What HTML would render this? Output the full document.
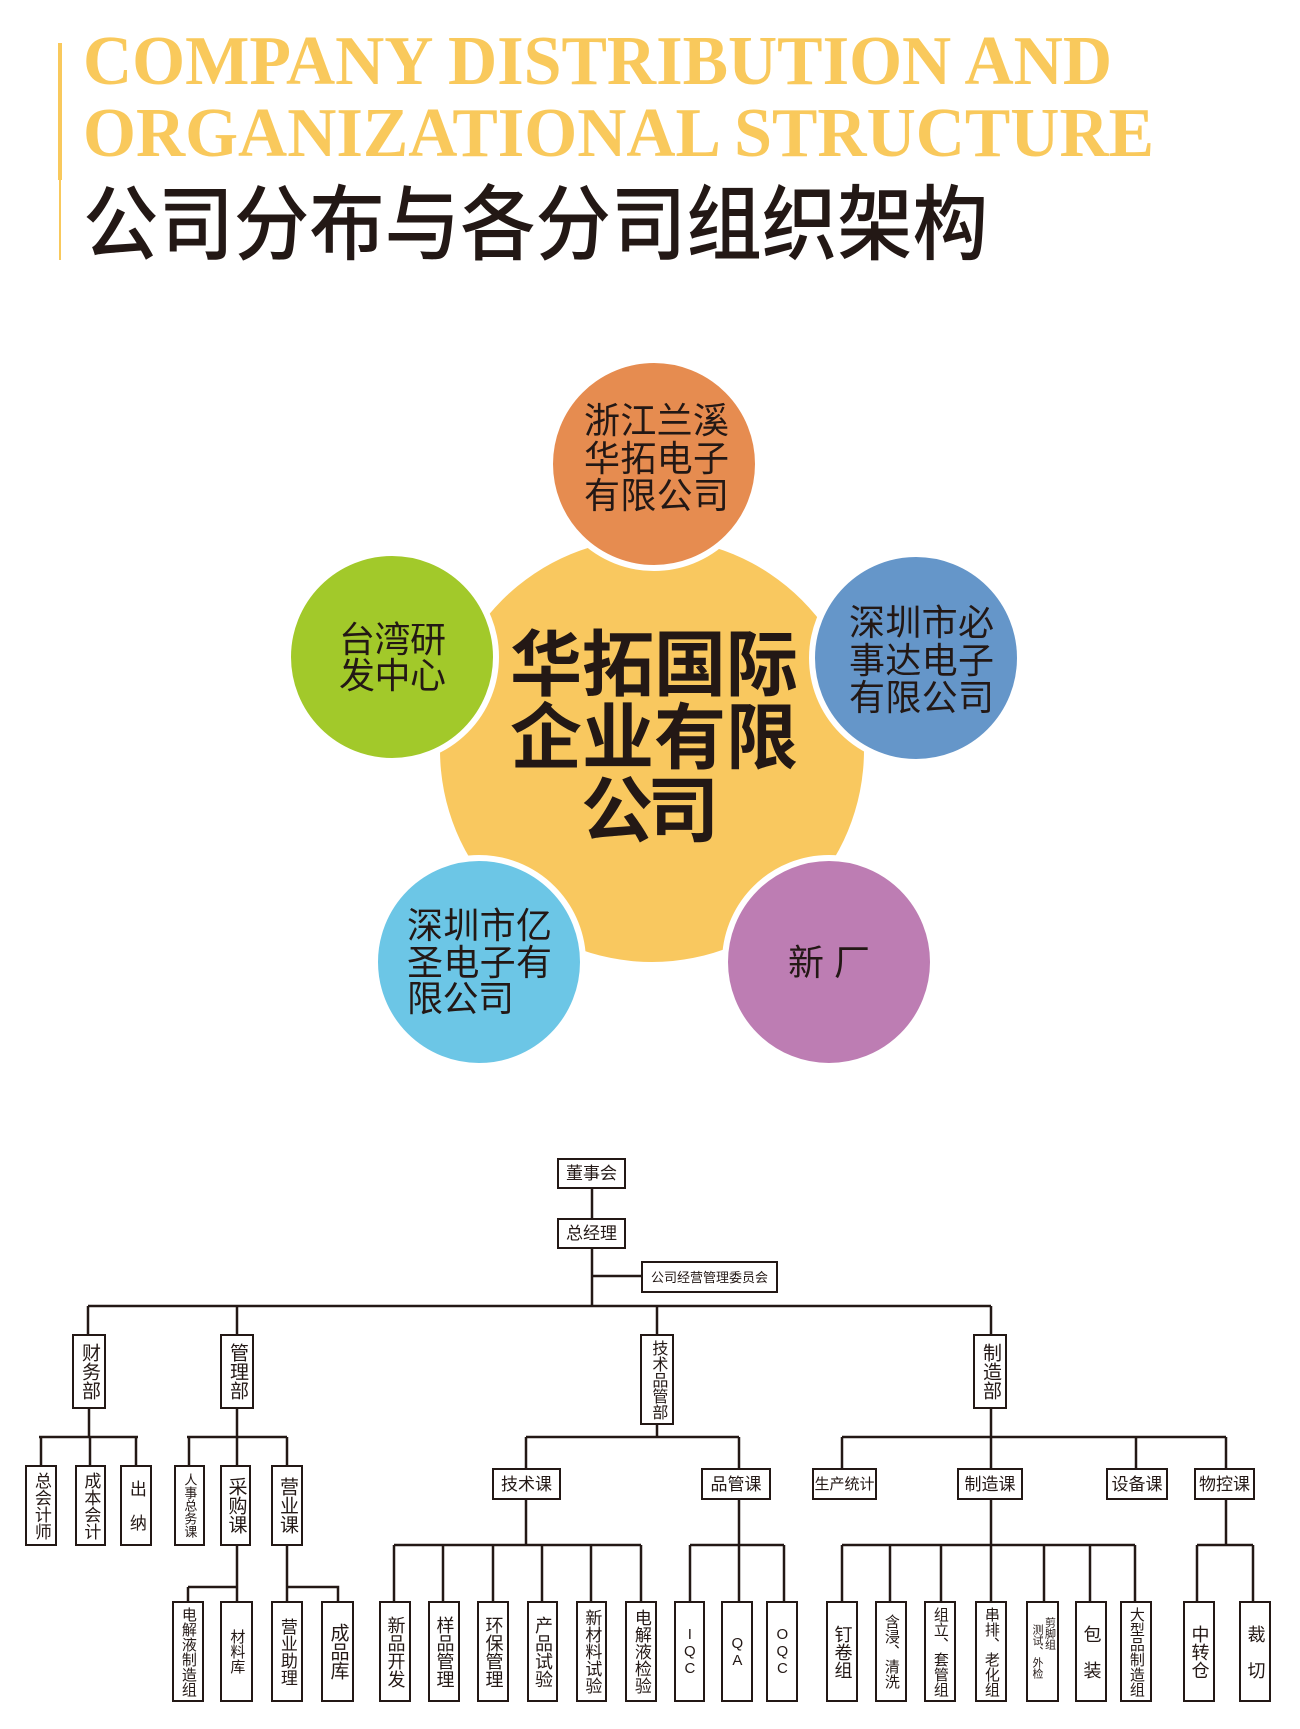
<!DOCTYPE html>
<html><head><meta charset="utf-8">
<style>
html,body{margin:0;padding:0;background:#fff;}
body{width:1300px;height:1729px;position:relative;overflow:hidden;font-family:"Liberation Sans","Noto Sans CJK SC",sans-serif;color:#231815;}
.b{position:absolute;box-sizing:border-box;border:2px solid #231815;background:#fff;display:flex;align-items:center;justify-content:center;font-size:17px;line-height:1;}
.v{writing-mode:vertical-rl;text-orientation:upright;line-height:1.05;white-space:nowrap;}
svg{position:absolute;left:0;top:0;}
</style></head><body>
<svg width="1300" height="1729" viewBox="0 0 1300 1729">
  <rect x="58" y="43" width="4" height="137" fill="#f9c95c"/>
  <rect x="59" y="180" width="2" height="80" fill="#f9c95c"/>
  <text x="83" y="84" font-family="Liberation Serif,serif" font-weight="bold" font-size="70" fill="#f9c95c" textLength="1029" lengthAdjust="spacingAndGlyphs">COMPANY DISTRIBUTION AND</text>
  <text x="83" y="156" font-family="Liberation Serif,serif" font-weight="bold" font-size="70" fill="#f9c95c" textLength="1071" lengthAdjust="spacingAndGlyphs">ORGANIZATIONAL STRUCTURE</text>
  <text x="83" y="253" font-family="Noto Sans CJK SC,sans-serif" font-weight="500" font-size="82" fill="#231815" textLength="905" lengthAdjust="spacingAndGlyphs">公司分布与各分司组织架构</text>

  <circle cx="652" cy="750" r="212" fill="#f9c85f"/>
  <g stroke="#fff" stroke-width="6">
    <circle cx="654" cy="464" r="104" fill="#e68c50"/>
    <circle cx="916" cy="658" r="104" fill="#6596c9"/>
    <circle cx="392" cy="657" r="104" fill="#a2c92a"/>
    <circle cx="479" cy="962" r="104" fill="#6cc6e6"/>
    <circle cx="829" cy="962" r="104" fill="#bd7db3"/>
  </g>
  <g font-family="Liberation Sans,Noto Sans CJK SC,sans-serif" font-size="36" fill="#231815">
    <text x="584" y="433" textLength="145">浙江兰溪</text>
    <text x="584" y="471" textLength="145">华拓电子</text>
    <text x="584" y="508" textLength="145">有限公司</text>
    <text x="849" y="635" textLength="145">深圳市必</text>
    <text x="849" y="673" textLength="145">事达电子</text>
    <text x="849" y="710" textLength="145">有限公司</text>
    <text x="339" y="652" textLength="107">台湾研</text>
    <text x="339" y="688" textLength="107">发中心</text>
    <text x="407" y="938" textLength="145">深圳市亿</text>
    <text x="407" y="975" textLength="145">圣电子有</text>
    <text x="407" y="1011" textLength="107">限公司</text>
    <text x="788" y="975" textLength="82">新 厂</text>
  </g>
  <g font-family="Liberation Sans,Noto Sans CJK SC,sans-serif" font-size="72" font-weight="bold" fill="#231815">
    <text x="510" y="690" textLength="288">华拓国际</text>
    <text x="510" y="763" textLength="288">企业有限</text>
    <text x="581" y="836" textLength="138">公司</text>
  </g>

  <g stroke="#231815" stroke-width="2.5" fill="none">
    <path d="M592 1189V1306M592 1276H641M88 1306H991M88 1306V1334M237 1306V1334M657 1306V1334M991 1306V1334"/>
    <path d="M89 1409V1437M39 1437H138M41 1437V1465M90 1437V1465M136 1437V1465"/>
    <path d="M237 1409V1437M187 1437H287M189 1437V1465M237 1437V1465M287 1437V1465"/>
    <path d="M237 1546V1587M188 1587H237M188 1587V1601M237 1587V1601M287 1546V1587H338V1601M287 1587V1601"/>
    <path d="M657 1425V1437M526 1437H739M526 1437V1468M739 1437V1468M526 1500V1545M394 1545H641M394 1545V1601M443 1545V1601M493 1545V1601M542 1545V1601M591 1545V1601M641 1545V1601"/>
    <path d="M739 1500V1545M690 1545H784M690 1545V1601M739 1545V1601M784 1545V1601"/>
    <path d="M991 1409V1437M842 1437H1226M842 1437V1468M991 1437V1468M1136 1437V1468M1226 1437V1468"/>
    <path d="M991 1500V1545M842 1545H1135M842 1545V1601M890 1545V1601M941 1545V1601M991 1545V1601M1044 1545V1601M1090 1545V1601M1135 1545V1601"/>
    <path d="M1226 1500V1545M1197 1545H1253M1197 1545V1601M1253 1545V1601"/>
  </g>
</svg>

<div class="b" style="left:557px;top:1158px;width:69px;height:31px;">董事会</div>
<div class="b" style="left:557px;top:1218px;width:69px;height:31px;">总经理</div>
<div class="b" style="left:641px;top:1261px;width:137px;height:32px;font-size:13px;">公司经营管理委员会</div>

<div class="b" style="left:72px;top:1334px;width:34px;height:75px;font-size:19px;"><span class="v">财务部</span></div>
<div class="b" style="left:220px;top:1334px;width:34px;height:75px;font-size:19px;"><span class="v">管理部</span></div>
<div class="b" style="left:640px;top:1334px;width:34px;height:91px;font-size:16px;"><span class="v">技术品管部</span></div>
<div class="b" style="left:973px;top:1334px;width:34px;height:75px;font-size:19px;"><span class="v">制造部</span></div>

<div class="b" style="left:25px;top:1465px;width:32px;height:81px;"><span class="v">总会计师</span></div>
<div class="b" style="left:75px;top:1465px;width:31px;height:81px;"><span class="v">成本会计</span></div>
<div class="b" style="left:120px;top:1465px;width:32px;height:81px;"><span class="v">出　纳</span></div>
<div class="b" style="left:174px;top:1465px;width:31px;height:81px;font-size:13px;"><span class="v">人事总务课</span></div>
<div class="b" style="left:220px;top:1465px;width:31px;height:81px;font-size:19px;"><span class="v">采购课</span></div>
<div class="b" style="left:271px;top:1465px;width:32px;height:81px;font-size:19px;"><span class="v">营业课</span></div>

<div class="b" style="left:492px;top:1468px;width:69px;height:32px;">技术课</div>
<div class="b" style="left:701px;top:1468px;width:70px;height:32px;">品管课</div>
<div class="b" style="left:812px;top:1468px;width:65px;height:32px;font-size:15px;">生产统计</div>
<div class="b" style="left:957px;top:1468px;width:66px;height:32px;">制造课</div>
<div class="b" style="left:1106px;top:1468px;width:62px;height:32px;">设备课</div>
<div class="b" style="left:1194px;top:1468px;width:61px;height:32px;">物控课</div>

<div class="b" style="left:172px;top:1601px;width:32px;height:101px;font-size:15px;"><span class="v">电解液制造组</span></div>
<div class="b" style="left:220px;top:1601px;width:33px;height:101px;font-size:15px;"><span class="v">材料库</span></div>
<div class="b" style="left:271px;top:1601px;width:32px;height:101px;"><span class="v">营业助理</span></div>
<div class="b" style="left:321px;top:1601px;width:33px;height:101px;font-size:19px;"><span class="v">成品库</span></div>

<div class="b" style="left:379px;top:1601px;width:32px;height:101px;font-size:18px;"><span class="v">新品开发</span></div>
<div class="b" style="left:428px;top:1601px;width:32px;height:101px;font-size:18px;"><span class="v">样品管理</span></div>
<div class="b" style="left:477px;top:1601px;width:32px;height:101px;font-size:18px;"><span class="v">环保管理</span></div>
<div class="b" style="left:527px;top:1601px;width:31px;height:101px;font-size:18px;"><span class="v">产品试验</span></div>
<div class="b" style="left:576px;top:1601px;width:31px;height:101px;font-size:17px;"><span class="v">新材料试验</span></div>
<div class="b" style="left:625px;top:1601px;width:32px;height:101px;font-size:17px;"><span class="v">电解液检验</span></div>

<div class="b" style="left:674px;top:1601px;width:31px;height:101px;font-size:15px;"><span class="v">IQC</span></div>
<div class="b" style="left:721px;top:1601px;width:32px;height:101px;font-size:15px;"><span class="v">QA</span></div>
<div class="b" style="left:766px;top:1601px;width:32px;height:101px;font-size:15px;"><span class="v">OQC</span></div>

<div class="b" style="left:826px;top:1601px;width:32px;height:101px;font-size:18px;"><span class="v">钉卷组</span></div>
<div class="b" style="left:875px;top:1601px;width:32px;height:101px;font-size:15px;"><span class="v">含浸、清洗</span></div>
<div class="b" style="left:924px;top:1601px;width:32px;height:101px;font-size:15px;"><span class="v">组立、套管组</span></div>
<div class="b" style="left:975px;top:1601px;width:32px;height:101px;font-size:15px;"><span class="v">串排、老化组</span></div>
<div class="b" style="left:1026px;top:1601px;width:33px;height:101px;font-size:11px;gap:1px;flex-direction:row-reverse;"><span class="v" style="align-self:flex-start;margin-top:14px;">剪脚组</span><span class="v">测试、外检</span></div>
<div class="b" style="left:1075px;top:1601px;width:32px;height:101px;font-size:18px;"><span class="v">包　装</span></div>
<div class="b" style="left:1120px;top:1601px;width:32px;height:101px;font-size:15px;"><span class="v">大型品制造组</span></div>

<div class="b" style="left:1183px;top:1601px;width:32px;height:101px;font-size:18px;"><span class="v">中转仓</span></div>
<div class="b" style="left:1239px;top:1601px;width:32px;height:101px;font-size:18px;"><span class="v">裁　切</span></div>
</body></html>
